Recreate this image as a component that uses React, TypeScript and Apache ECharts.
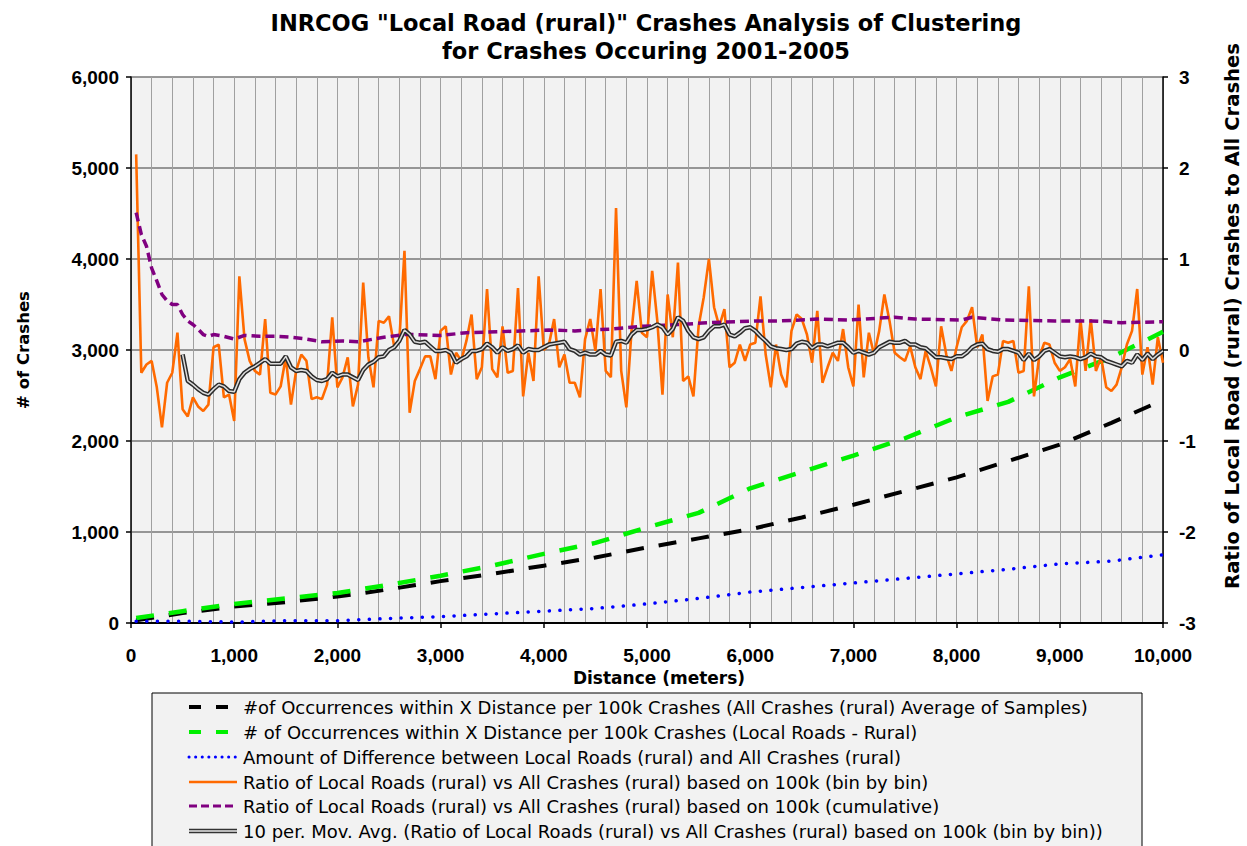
import React, { useEffect, useRef } from "react";
import * as echarts from "echarts";

// ---------- DATA ----------
const BIN_STEP = 50; // metres per bin
const MOVAVG_START = 500; // first bin of the 10-period moving average

// Ratio of Local Roads (rural) vs All Crashes (rural), bin by bin (right axis), bins 50..10000
const orangeRatio = [
  2.15, -0.25, -0.16, -0.12, -0.41, -0.85, -0.36, -0.25, 0.19, -0.65, -0.73, -0.52, -0.62, -0.67, -0.6, 0.03, 0.06, -0.52, -0.49, -0.78,
  0.81, 0.12, -0.12, -0.23, -0.27, 0.34, -0.47, -0.49, -0.4, -0.08, -0.6, -0.23, -0.05, -0.12, -0.54, -0.52, -0.54, -0.38, 0.36, -0.41,
  -0.3, -0.08, -0.62, -0.38, 0.74, -0.08, -0.41, 0.32, 0.3, 0.37, 0.04, 0.1, 1.09, -0.69, -0.34, -0.21, -0.07, -0.07, -0.32, 0.21,
  0.26, -0.27, -0.03, -0.12, 0.1, 0.39, -0.32, -0.19, 0.67, -0.21, -0.3, 0.26, -0.25, -0.23, 0.68, -0.51, -0.03, -0.34, 0.81, 0.0,
  0.06, 0.34, -0.19, -0.05, -0.36, -0.36, -0.52, 0.12, 0.34, -0.01, 0.67, -0.23, -0.3, 1.56, -0.23, -0.63, 0.21, 0.76, 0.19, 0.14,
  0.87, 0.32, -0.49, 0.61, 0.14, 0.96, -0.34, -0.29, -0.51, 0.26, 0.58, 1.0, 0.47, 0.26, 0.45, -0.19, -0.14, 0.06, -0.12, 0.06,
  0.08, 0.59, -0.05, -0.41, 0.06, -0.27, -0.41, 0.21, 0.39, 0.34, 0.17, -0.14, 0.43, -0.36, -0.19, -0.03, -0.12, 0.23, -0.19, -0.4,
  0.5, -0.3, 0.19, -0.05, 0.21, 0.61, 0.32, -0.03, -0.08, -0.12, 0.04, -0.19, -0.32, -0.01, -0.19, -0.4, 0.26, -0.05, -0.23, 0.03,
  0.25, 0.32, 0.47, 0.03, 0.17, -0.56, -0.29, -0.27, 0.1, 0.08, 0.1, -0.25, -0.23, 0.7, -0.51, -0.08, 0.08, 0.06, -0.14, -0.23,
  -0.19, -0.1, -0.4, 0.34, -0.23, 0.34, -0.23, -0.08, -0.41, -0.45, -0.38, -0.19, 0.06, 0.21, 0.67, -0.27, 0.03, -0.38, 0.14, -0.14,
];

// 10 per. Mov. Avg. (right axis), bins 500..10000
const movAvg = [
  -0.05, -0.34, -0.38, -0.43, -0.47, -0.49, -0.43, -0.38, -0.40, -0.45,
  -0.46, -0.32, -0.25, -0.21, -0.18, -0.14, -0.10, -0.15, -0.15, -0.15, -0.07, -0.19, -0.23, -0.22, -0.23, -0.29, -0.33, -0.34, -0.32, -0.25,
  -0.29, -0.27, -0.27, -0.30, -0.33, -0.22, -0.16, -0.13, -0.08, -0.07, 0.00, 0.03, 0.10, 0.22, 0.17, 0.09, 0.08, 0.09, 0.04, -0.01,
  -0.01, 0.00, -0.03, -0.14, -0.10, -0.07, -0.01, -0.01, 0.01, 0.07, 0.03, -0.03, 0.03, -0.01, 0.01, 0.05, -0.03, 0.01, 0.00, 0.00,
  0.03, 0.06, 0.07, 0.08, 0.09, 0.01, -0.01, -0.05, -0.03, -0.05, -0.05, -0.01, -0.05, -0.06, 0.09, 0.10, 0.08, 0.17, 0.22, 0.22,
  0.23, 0.25, 0.28, 0.25, 0.17, 0.23, 0.36, 0.32, 0.21, 0.14, 0.12, 0.14, 0.21, 0.26, 0.26, 0.28, 0.17, 0.15, 0.19, 0.24,
  0.25, 0.21, 0.15, 0.10, 0.04, 0.02, 0.01, 0.00, 0.01, 0.07, 0.09, 0.08, 0.02, 0.06, 0.06, 0.04, 0.06, 0.08, 0.08, 0.03,
  -0.03, -0.01, -0.03, -0.05, -0.03, 0.03, 0.06, 0.09, 0.08, 0.08, 0.10, 0.06, 0.06, 0.03, 0.02, -0.03, -0.08, -0.08, -0.09, -0.10,
  -0.07, -0.07, -0.03, 0.03, 0.06, 0.07, 0.01, -0.01, -0.02, 0.01, 0.01, -0.01, -0.03, -0.11, -0.04, -0.11, -0.07, -0.01, 0.01, -0.03,
  -0.07, -0.08, -0.07, -0.08, -0.10, -0.08, -0.04, -0.07, -0.08, -0.12, -0.14, -0.16, -0.18, -0.12, -0.14, -0.05, -0.11, -0.04, -0.10, -0.05,
  -0.01,
];

// Cumulative ratio (right axis)
const cumulativeDist = [50, 100, 150, 200, 250, 300, 350, 400, 450, 500, 550, 600, 650, 700, 750, 800, 900, 1000, 1100, 1250, 1400, 1550, 1700, 1850, 2050, 2200, 2450, 2650, 2750, 3000, 3250, 3550, 4050, 4300, 4650, 4950, 5300, 5600, 6050, 6300, 6650, 6950, 7400, 7600, 8050, 8150, 8450, 8950, 9300, 9600, 10000];
const cumulativeRatio = [1.51, 1.27, 1.14, 0.9, 0.76, 0.61, 0.54, 0.5, 0.5, 0.39, 0.32, 0.28, 0.23, 0.17, 0.15, 0.17, 0.15, 0.12, 0.16, 0.15, 0.15, 0.14, 0.12, 0.09, 0.1, 0.09, 0.14, 0.17, 0.17, 0.16, 0.19, 0.2, 0.22, 0.21, 0.23, 0.26, 0.28, 0.3, 0.32, 0.32, 0.34, 0.33, 0.36, 0.34, 0.33, 0.36, 0.33, 0.32, 0.32, 0.3, 0.31];

// Cumulative occurrences (left axis)
const occDist = [50, 500, 1000, 1500, 2000, 2500, 3000, 3500, 4000, 4500, 5000, 5500, 6000, 6500, 7000, 7500, 8000, 8500, 9000, 9500, 10000];
const allCrashesOcc = [30, 110, 180, 230, 290, 370, 460, 540, 630, 720, 830, 930, 1030, 1160, 1300, 1450, 1600, 1780, 1960, 2200, 2450];
const localRoadsOcc = [55, 130, 210, 270, 330, 420, 520, 630, 760, 880, 1050, 1210, 1480, 1660, 1840, 2030, 2260, 2430, 2700, 2920, 3200];
const differenceOcc = [20, 20, 10, 25, 25, 50, 70, 100, 130, 160, 210, 270, 340, 390, 440, 490, 540, 590, 650, 680, 750];

const legendLabels = [
  "#of Occurrences within X Distance per 100k Crashes (All Crashes (rural) Average of Samples)",
  "# of Occurrences within X Distance per 100k Crashes (Local Roads - Rural)",
  "Amount of Difference between Local Roads (rural) and All Crashes (rural)",
  "Ratio of Local Roads (rural) vs All Crashes (rural) based on 100k (bin by bin)",
  "Ratio of Local Roads (rural) vs All Crashes (rural) based on 100k (cumulative)",
  "10 per. Mov. Avg. (Ratio of Local Roads (rural) vs All Crashes (rural) based on 100k (bin by bin))",
];

const titleLines = [
  'INRCOG "Local Road (rural)" Crashes Analysis of Clustering',
  "for Crashes Occuring 2001-2005",
];
const rightAxisTitle = "Ratio of Local Road (rural) Crashes to All Crashes";

// ---------- STYLE ----------
const FONT = "'Liberation Sans', Arial, sans-serif";
const WFONT = "'DejaVu Sans', Verdana, sans-serif";
const C_BLACK = "#000000";
const C_GREEN = "#00f000";
const C_BLUE = "#0000ff";
const C_ORANGE = "#ff6a00";
const C_PURPLE = "#800080";

export default function App() {
  const ref = useRef<HTMLDivElement>(null);

  useEffect(() => {
    if (!ref.current) return;
    const chart = echarts.init(ref.current, null, { renderer: "svg" });

    const fmt = (v: number) => v.toLocaleString("en-US");

    const orangeData = orangeRatio.map((v, i) => [(i + 1) * BIN_STEP, v]);
    const movData = movAvg.map((v, i) => [MOVAVG_START + i * BIN_STEP, v]);
    const cumData = cumulativeDist.map((d, i) => [d, cumulativeRatio[i]]);
    const allData = occDist.map((d, i) => [d, allCrashesOcc[i]]);
    const localData = occDist.map((d, i) => [d, localRoadsOcc[i]]);
    const diffData = occDist.map((d, i) => [d, differenceOcc[i]]);

    // legend drawn with graphic elements
    const legX1 = 189;
    const legX2 = 237;
    const rowY = [707, 732, 757, 782, 806, 831];
    const legendGraphics: any[] = [
      {
        type: "rect",
        shape: { x: 152, y: 693, width: 990, height: 170 },
        style: { fill: "#f2f2f2", stroke: "#000", lineWidth: 1 },
        z: 10,
      },
    ];
    const symStyles: any[] = [
      [{ stroke: C_BLACK, lineWidth: 4, lineDash: [12, 15] }],
      [{ stroke: C_GREEN, lineWidth: 4, lineDash: [12, 15] }],
      [{ stroke: C_BLUE, lineWidth: 3, lineDash: [0.1, 6.5], lineCap: "round" }],
      [{ stroke: C_ORANGE, lineWidth: 2.5 }],
      [{ stroke: C_PURPLE, lineWidth: 3, lineDash: [8, 4] }],
      [
        { stroke: "#333", lineWidth: 4.5 },
        { stroke: "#e8e8e8", lineWidth: 1.5 },
      ],
    ];
    rowY.forEach((y, i) => {
      symStyles[i].forEach((st: any) => {
        legendGraphics.push({
          type: "line",
          shape: { x1: legX1, y1: y, x2: legX2, y2: y },
          style: { ...st },
          z: 11,
        });
      });
      legendGraphics.push({
        type: "text",
        x: 243,
        y: y,
        style: {
          text: legendLabels[i],
          font: `18px ${WFONT}`,
          fill: "#000",
          verticalAlign: "middle",
        },
        z: 11,
      });
    });

    const titleGraphics: any[] = titleLines.map((t, i) => ({
      type: "text",
      x: 646,
      y: 23 + i * 28,
      style: {
        text: t,
        font: `bold 22.5px ${WFONT}`,
        fill: "#000",
        align: "center",
        verticalAlign: "middle",
      },
    }));
    titleGraphics.push({
      type: "text",
      x: 1232,
      y: 316,
      rotation: Math.PI / 2,
      style: {
        text: rightAxisTitle,
        font: `bold 19.6px ${WFONT}`,
        fill: "#000",
        align: "center",
        verticalAlign: "middle",
      },
    });

    const option: any = {
      animation: false,
      backgroundColor: "#ffffff",
      textStyle: { fontFamily: FONT },
      grid: {
        left: 131,
        right: 84,
        top: 77,
        bottom: 223,
        show: true,
        backgroundColor: "#f2f2f2",
        borderWidth: 0,
      },
      xAxis: {
        type: "value",
        min: 0,
        max: 10000,
        interval: 1000,
        name: "Distance (meters)",
        nameLocation: "middle",
        nameGap: 46,
        nameTextStyle: {
          fontSize: 17,
          fontWeight: "bold",
          color: "#000",
          fontFamily: WFONT,
          padding: [0, 0, 0, 24],
        },
        axisLine: { show: true, onZero: false, lineStyle: { color: "#000", width: 2 } },
        axisTick: { show: true, length: 5, lineStyle: { color: "#000", width: 1.5 } },
        axisLabel: {
          fontSize: 19,
          fontWeight: "bold",
          color: "#000",
          margin: 23,
          formatter: fmt,
          fontFamily: FONT,
        },
        splitLine: { show: true, lineStyle: { color: "#a0a0a0", width: 1 } },
        minorTick: { show: false, splitNumber: 5 },
        minorSplitLine: { show: true, lineStyle: { color: "#a0a0a0", width: 1 } },
      },
      yAxis: [
        {
          type: "value",
          min: 0,
          max: 6000,
          interval: 1000,
          position: "left",
          name: "# of Crashes",
          nameLocation: "middle",
          nameRotate: 90,
          nameGap: 99,
          nameTextStyle: { fontSize: 16.5, fontWeight: "bold", color: "#000", fontFamily: WFONT },
          axisLine: { show: true, lineStyle: { color: "#000", width: 1.5 } },
          axisTick: { show: true, length: 5, lineStyle: { color: "#000", width: 1.5 } },
          axisLabel: {
            fontSize: 19,
            fontWeight: "bold",
            color: "#000",
            margin: 12,
            formatter: fmt,
            fontFamily: FONT,
          },
          splitLine: { show: true, lineStyle: { color: "#777777", width: 1.5 } },
        },
        {
          type: "value",
          min: -3,
          max: 3,
          interval: 1,
          position: "right",
          axisLine: { show: true, lineStyle: { color: "#000", width: 1.5 } },
          axisTick: { show: true, length: 5, lineStyle: { color: "#000", width: 1.5 } },
          axisLabel: {
            fontSize: 19,
            fontWeight: "bold",
            color: "#000",
            margin: 16,
            fontFamily: FONT,
          },
          splitLine: { show: false },
        },
      ],
      series: [
        {
          name: legendLabels[0],
          type: "line",
          yAxisIndex: 0,
          data: allData,
          symbol: "none",
          lineStyle: { color: C_BLACK, width: 4, type: [18, 15] },
          z: 2,
        },
        {
          name: legendLabels[1],
          type: "line",
          yAxisIndex: 0,
          data: localData,
          symbol: "none",
          lineStyle: { color: C_GREEN, width: 4.5, type: [18, 15] },
          z: 3,
        },
        {
          name: legendLabels[2],
          type: "line",
          yAxisIndex: 0,
          data: diffData,
          symbol: "none",
          lineStyle: { color: C_BLUE, width: 3.5, type: [0.1, 10.5], cap: "round" },
          z: 3,
        },
        {
          name: legendLabels[3],
          type: "line",
          yAxisIndex: 1,
          data: orangeData,
          symbol: "none",
          lineStyle: { color: C_ORANGE, width: 2.6 },
          z: 4,
        },
        {
          name: legendLabels[4],
          type: "line",
          yAxisIndex: 1,
          data: cumData,
          symbol: "none",
          lineStyle: { color: C_PURPLE, width: 3.5, type: [9, 5] },
          z: 5,
        },
        {
          name: legendLabels[5],
          type: "line",
          yAxisIndex: 1,
          data: movData,
          symbol: "none",
          lineStyle: { color: "#2a2a2a", width: 4.5 },
          z: 6,
        },
        {
          name: legendLabels[5] + " ",
          type: "line",
          yAxisIndex: 1,
          data: movData,
          symbol: "none",
          lineStyle: { color: "#dcdcdc", width: 1.5 },
          z: 7,
        },
      ],
      graphic: [...titleGraphics, ...legendGraphics],
    };

    chart.setOption(option);
    return () => chart.dispose();
  }, []);

  return (
    <div
      ref={ref}
      style={{ position: "fixed", left: 0, top: 0, width: 1247, height: 846 }}
    />
  );
}
